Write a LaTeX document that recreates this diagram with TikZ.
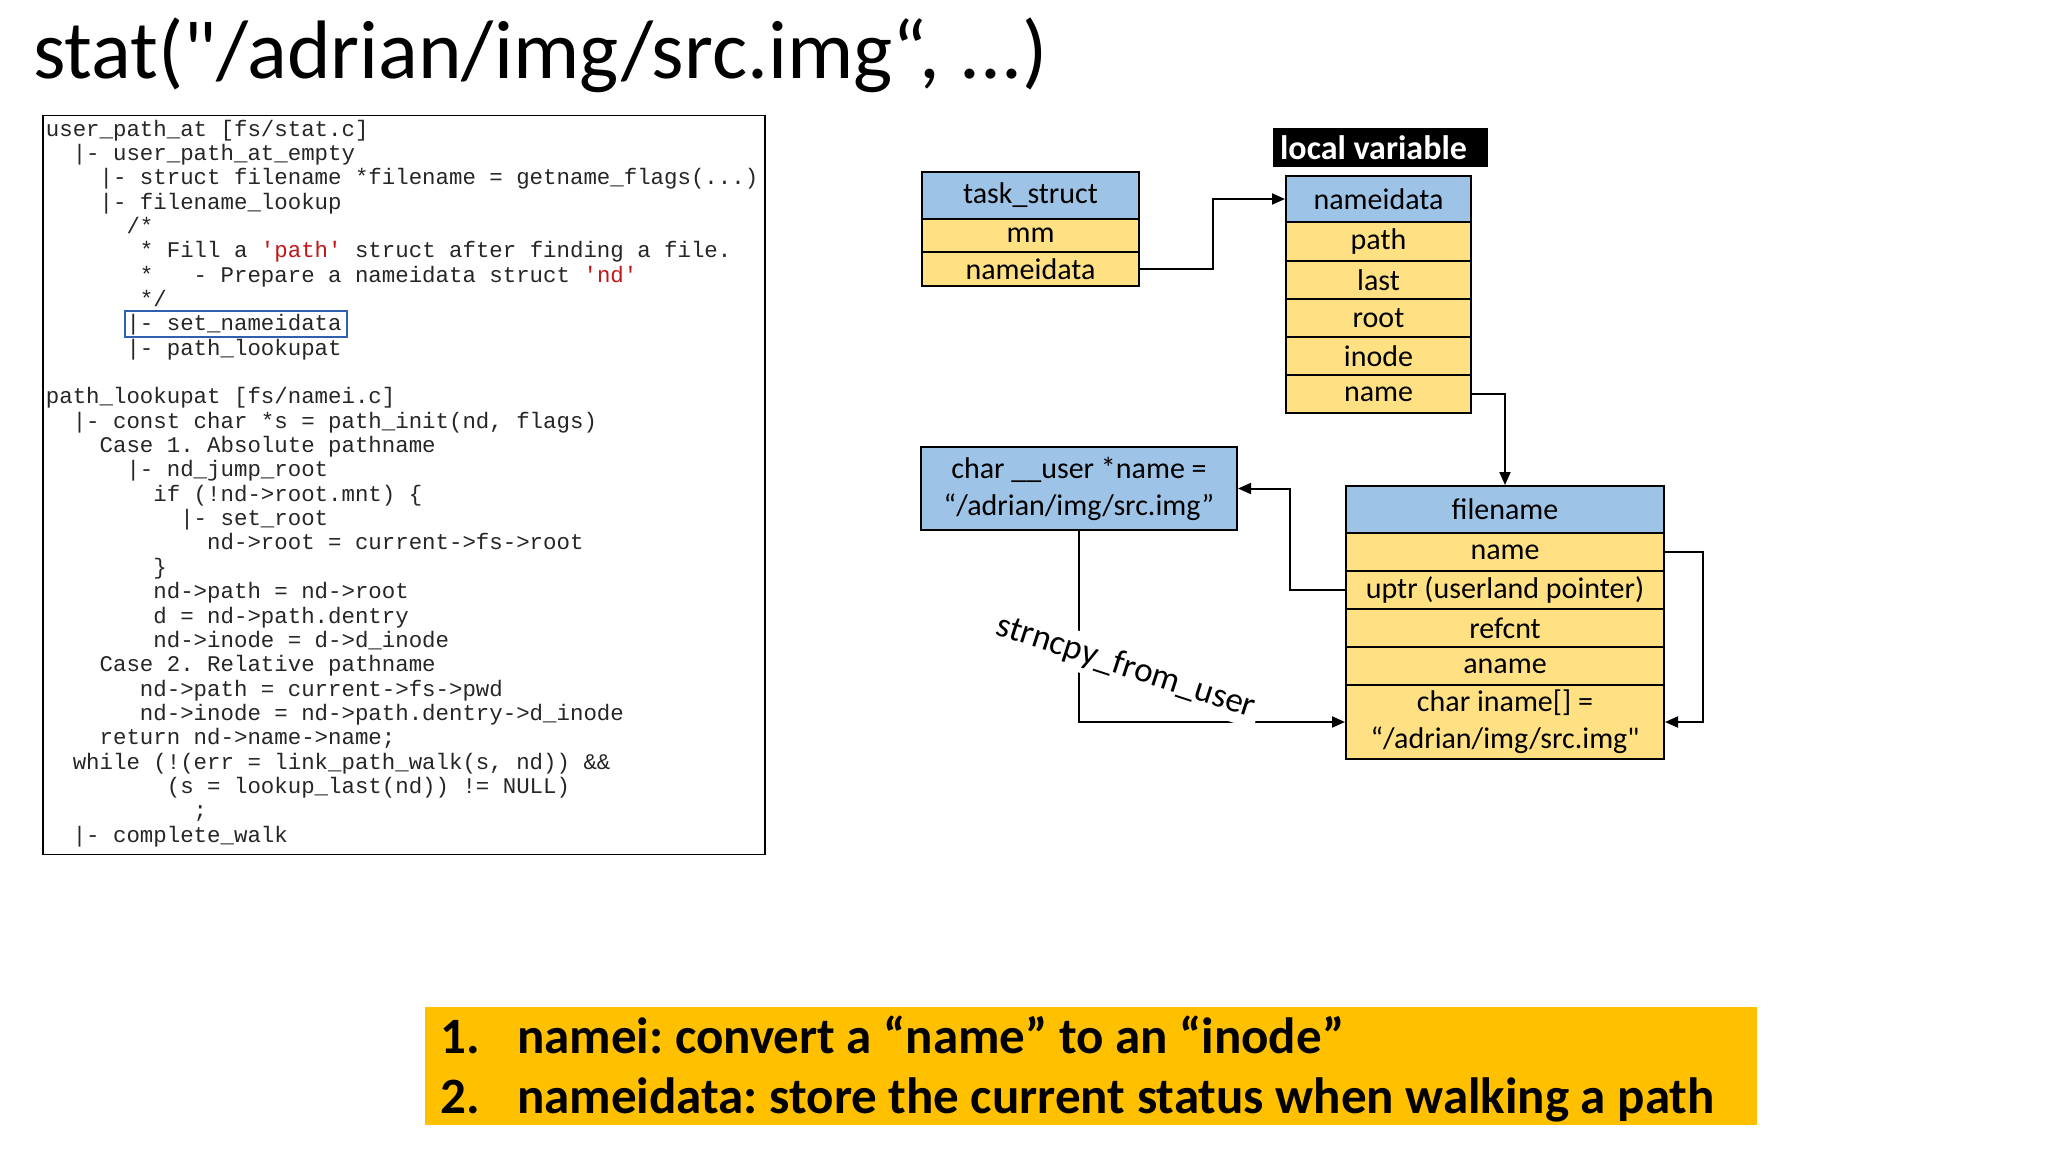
\documentclass[tikz,border=0pt]{standalone}
\usepackage{fontspec}
\setmainfont{Carlito}
\newfontfamily\plainfont{Carlito}[Ligatures=TeXOff]
\newfontfamily\codefont{Liberation Mono}
\usetikzlibrary{arrows.meta}
\frenchspacing
\definecolor{hdrblue}{HTML}{9DC3E6}
\definecolor{rowyel}{HTML}{FFE082}
\definecolor{amber}{HTML}{FFC000}
\definecolor{codegray}{HTML}{262626}
\definecolor{codered}{HTML}{C01818}
\definecolor{hlblue}{HTML}{2E5FB0}
\tikzset{
  cell/.style={draw=black, line width=2pt, inner sep=0pt, font=\fontsize{30}{36}\selectfont, align=center},
  hdr/.style={cell, fill=hdrblue},
  row/.style={cell, fill=rowyel},
  code/.style={anchor=base west, inner sep=0pt, text=codegray, font=\codefont\fontsize{22.4}{24.3}\selectfont},
  conn/.style={line width=2pt, draw=black},
  arr/.style={conn, -{Triangle[length=13pt,width=11pt]}},
  banner/.style={anchor=base west, inner sep=0pt, font=\bfseries\fontsize{51}{60}\selectfont}
}
\newcommand{\rd}[1]{\textcolor{codered}{#1}}
\begin{document}
\frenchspacing
\begin{tikzpicture}[x=1pt,y=-1pt]
\useasboundingbox (0,0) rectangle (2048,1152);
\fill[white] (0,0) rectangle (2048,1152);

% title
\node[anchor=base west, inner sep=0pt, font=\plainfont\fontsize{83}{90}\selectfont] (title) at (33,78) {stat("/adrian/img/src.img“, ...)};

% code box
\node[draw=black, line width=1.6pt, minimum width=722, minimum height=739, inner sep=0pt] (codebox) at (404,485) {};
\node[draw=hlblue, line width=1.5pt, minimum width=222, minimum height=26, inner sep=0pt] (hl) at (236,324) {};
\def\cw{13.44}
\def\lx{45.7}
\def\ls{24.35}
\node[code] (c1)  at (\lx+0*\cw,136.0+0*\ls) {user\_path\_at [fs/stat.c]};
\node[code] (c2)  at (\lx+2*\cw,136.0+1*\ls) {|- user\_path\_at\_empty};
\node[code] (c3)  at (\lx+4*\cw,136.0+2*\ls) {|- struct filename *filename = getname\_flags(...)};
\node[code] (c4)  at (\lx+4*\cw,136.0+3*\ls) {|- filename\_lookup};
\node[code] (c5)  at (\lx+6*\cw,136.0+4*\ls) {/*};
\node[code] (c6)  at (\lx+7*\cw,136.0+5*\ls) {* Fill a \rd{'path'} struct after finding a file.};
\node[code] (c7)  at (\lx+7*\cw,136.0+6*\ls) {*\ \ \ - Prepare a nameidata struct \rd{'nd'}};
\node[code] (c8)  at (\lx+7*\cw,136.0+7*\ls) {*/};
\node[code] (c9)  at (\lx+6*\cw,136.0+8*\ls) {|- set\_nameidata};
\node[code] (c10) at (\lx+6*\cw,136.0+9*\ls) {|- path\_lookupat};
\node[code] (c12) at (\lx+0*\cw,136.0+11*\ls) {path\_lookupat [fs/namei.c]};
\node[code] (c13) at (\lx+2*\cw,136.0+12*\ls) {|- const char *s = path\_init(nd, flags)};
\node[code] (c14) at (\lx+4*\cw,136.0+13*\ls) {Case 1. Absolute pathname};
\node[code] (c15) at (\lx+6*\cw,136.0+14*\ls) {|- nd\_jump\_root};
\node[code] (c16) at (\lx+8*\cw,136.0+15*\ls) {if (!nd->root.mnt) \{};
\node[code] (c17) at (\lx+10*\cw,136.0+16*\ls) {|- set\_root};
\node[code] (c18) at (\lx+12*\cw,136.0+17*\ls) {nd->root = current->fs->root};
\node[code] (c19) at (\lx+8*\cw,136.0+18*\ls) {\}};
\node[code] (c20) at (\lx+8*\cw,136.0+19*\ls) {nd->path = nd->root};
\node[code] (c21) at (\lx+8*\cw,136.0+20*\ls) {d = nd->path.dentry};
\node[code] (c22) at (\lx+8*\cw,136.0+21*\ls) {nd->inode = d->d\_inode};
\node[code] (c23) at (\lx+4*\cw,136.0+22*\ls) {Case 2. Relative pathname};
\node[code] (c24) at (\lx+7*\cw,136.0+23*\ls) {nd->path = current->fs->pwd};
\node[code] (c25) at (\lx+7*\cw,136.0+24*\ls) {nd->inode = nd->path.dentry->d\_inode};
\node[code] (c26) at (\lx+4*\cw,136.0+25*\ls) {return nd->name->name;};
\node[code] (c27) at (\lx+2*\cw,136.0+26*\ls) {while (!(err = link\_path\_walk(s, nd)) \&\&};
\node[code] (c28) at (\lx+9*\cw,136.0+27*\ls) {(s = lookup\_last(nd)) != NULL)};
\node[code] (c29) at (\lx+11*\cw,136.0+28*\ls) {;};
\node[code] (c30) at (\lx+2*\cw,136.0+29*\ls) {|- complete\_walk};

% task_struct
\node[hdr, minimum width=217, minimum height=47] (tsh) at (1030.5,195.5) {task\_struct};
\node[row, minimum width=217, minimum height=33] (tsmm) at (1030.5,235.5) {mm};
\node[row, minimum width=217, minimum height=34] (tsnd) at (1030.5,269) {nameidata};

% local variable
\node[fill=black, text=white, font=\bfseries\fontsize{34}{40}\selectfont, minimum width=215, minimum height=39, inner sep=0pt, text depth=0pt] (lv) at (1380.5,147.5) {local variable\hspace*{14pt}};

% nameidata
\node[hdr, minimum width=185, minimum height=46] (ndh) at (1378.5,199) {nameidata};
\node[row, minimum width=185, minimum height=39] (ndpath) at (1378.5,241.5) {path};
\node[row, minimum width=185, minimum height=38] (ndlast) at (1378.5,280) {last};
\node[row, minimum width=185, minimum height=38] (ndroot) at (1378.5,318) {root};
\node[row, minimum width=185, minimum height=38] (ndinode) at (1378.5,356) {inode};
\node[row, minimum width=185, minimum height=38] (ndname) at (1378.5,394) {name};

% char __user box
\node[hdr, minimum width=316, minimum height=83] (cu) at (1079,488.5) {char \_\_user *name =\\[1pt]“/adrian/img/src.img”};

% filename
\node[hdr, minimum width=318, minimum height=47] (fnh) at (1505,509.5) {filename};
\node[row, minimum width=318, minimum height=38] (fnname) at (1505,552) {name};
\node[row, minimum width=318, minimum height=38] (fnuptr) at (1505,590) {uptr (userland pointer)};
\node[row, minimum width=318, minimum height=38] (fnref) at (1505,628) {refcnt};
\node[row, minimum width=318, minimum height=38] (fnaname) at (1505,666) {aname};
\node[row, minimum width=318, minimum height=74] (fniname) at (1505,722) {char iname[] =\\[1pt]{\plainfont “/adrian/img/src.img"}};

% connectors
\draw[arr] (tsnd.east) -- ++(73,0) |- (ndh.west);
\draw[arr] (ndname.east) -| (fnh.north);
\draw[arr] (fnuptr.west) -- ++(-55,0) |- (cu.east);
\draw[arr] (fnname.east) -- ++(38,0) |- (fniname.east);
\draw[arr] (cu.south) |- (fniname.west);
\node[fill=white, rotate=-18, inner sep=5pt, font=\fontsize{35}{40}\selectfont] (lbl) at (1126,667) {strncpy\_from\_user};

% banner
\node[fill=amber, minimum width=1332, minimum height=118, inner sep=0pt] (bn) at (1090.6,1065.5) {};
\node[banner] (b1n) at (440,1053) {1.};
\node[banner] (b1t) at (517,1053) {namei: convert a “name” to an “inode”};
\node[banner] (b2n) at (440,1113) {2.};
\node[banner] (b2t) at (517,1113) {nameidata: store the current status when walking a path};
\end{tikzpicture}
\end{document}
